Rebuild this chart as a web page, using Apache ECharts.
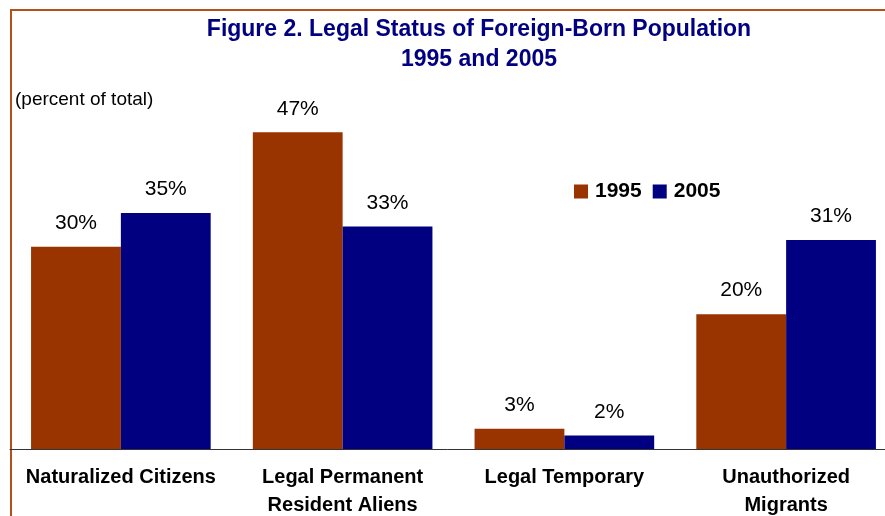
<!doctype html>
<html>
<head>
    <meta charset="utf-8">
    <title>Legal Status of Foreign-Born Population</title>
    <script src="https://cdn.jsdelivr.net/npm/echarts@6/dist/echarts.min.js"></script>
    <style>
        html, body { margin: 0; padding: 0; background: #fff; overflow: hidden; }
        #main { width: 885px; height: 516px; }
    </style>
</head>
<body>
    <div id="main"></div>
<script type="text/javascript">
    // 数据
    var categories = ['Naturalized Citizens', 'Legal Permanent\nResident Aliens', 'Legal Temporary', 'Unauthorized\nMigrants'];
    var years = ['1995', '2005'];
    var values1995 = [30, 47, 3, 20];
    var values2005 = [35, 33, 2, 31];

    var font = 'Arial, "Liberation Sans", sans-serif';
    var myChart = echarts.init(document.getElementById('main'));

    function barLabel() {
        return {
            show: true,
            position: 'top',
            distance: 13,
            formatter: '{c}%',
            color: '#000',
            fontFamily: font,
            fontSize: 21
        };
    }

    var option = {
        backgroundColor: '#fff',
        animation: false,
        legend: {
            data: years,
            left: 569,
            top: 176,
            itemWidth: 14,
            itemHeight: 14,
            itemGap: 11,
            icon: 'rect',
            textStyle: {
                fontFamily: font,
                fontWeight: 'bold',
                fontSize: 21,
                color: '#000',
                padding: [0, 0, 0, 2]
            }
        },
        grid: {
            left: 10,
            top: 112,
            width: 887,
            height: 337,
            outerBoundsMode: 'none'
        },
        xAxis: {
            type: 'category',
            data: categories,
            axisLine: { lineStyle: { color: '#333', width: 1 } },
            axisTick: { show: false },
            axisLabel: {
                interval: 0,
                margin: 14,
                color: '#000',
                fontFamily: font,
                fontWeight: 'bold',
                fontSize: 20,
                lineHeight: 28
            }
        },
        yAxis: {
            type: 'value',
            min: 0,
            max: 50,
            show: false
        },
        series: [{
            name: '1995',
            type: 'bar',
            data: values1995,
            itemStyle: { color: '#993300' },
            barGap: '0%',
            barCategoryGap: '19%',
            label: barLabel()
        }, {
            name: '2005',
            type: 'bar',
            data: values2005,
            itemStyle: { color: '#000080' },
            label: barLabel()
        }],
        graphic: [{
            type: 'rect',
            shape: { x: 11, y: 10, width: 900, height: 520 },
            style: { fill: 'none', stroke: '#b4501c', lineWidth: 2 },
            silent: true
        }, {
            type: 'text',
            x: 479,
            y: 15,
            style: {
                text: 'Figure 2. Legal Status of Foreign-Born Population\n1995 and 2005',
                textAlign: 'center',
                fill: '#000080',
                fontFamily: font,
                fontWeight: 'bold',
                fontSize: 23,
                lineHeight: 30
            }
        }, {
            type: 'text',
            x: 15,
            y: 90,
            style: {
                text: '(percent of total)',
                fill: '#000',
                fontFamily: font,
                fontSize: 19
            }
        }]
    };
    myChart.setOption(option);
</script>
</body>
</html>
